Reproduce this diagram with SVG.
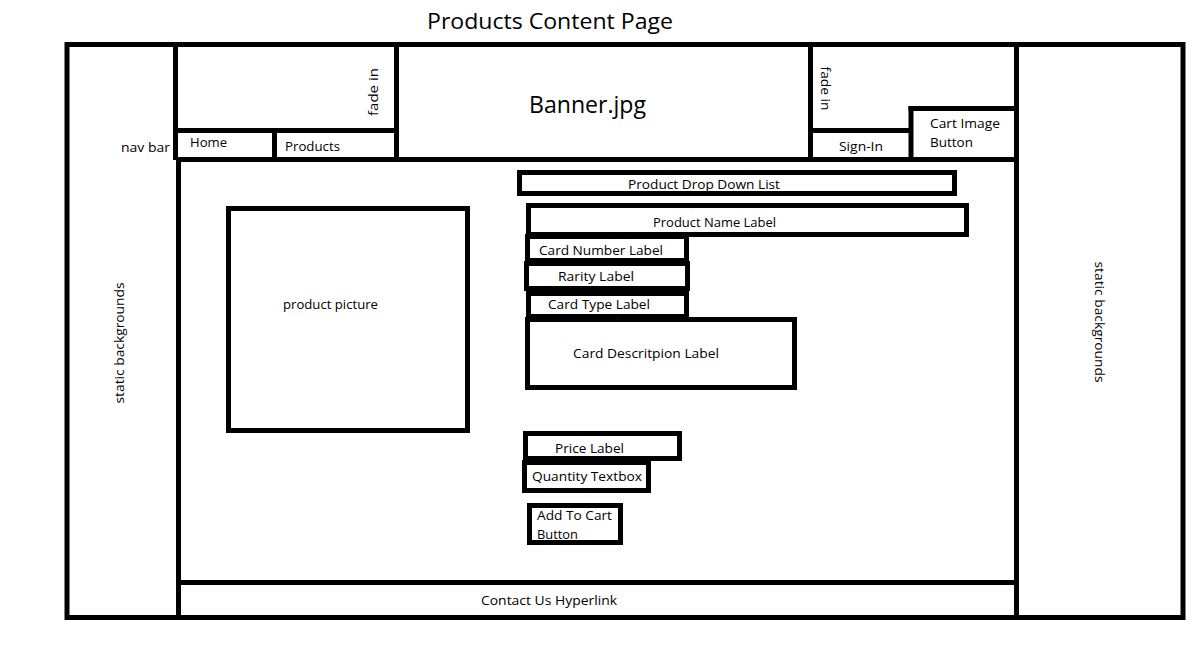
<svg xmlns="http://www.w3.org/2000/svg" width="1202" height="653" viewBox="0 0 1202 653">
  <style>
    .frame { fill: none; stroke: #000; stroke-width: 5; }
    .wall { stroke: #000; stroke-width: 5; fill: none; }
    .box { fill: none; stroke: #000; stroke-width: 5; }
    .lbl { font-family: "Open Sans", "Noto Sans", sans-serif; font-size: 12.5px; fill: #000; }
    .big { font-family: "Open Sans", "Noto Sans", sans-serif; font-size: 22px; fill: #000; }
  </style>
  <rect width="1202" height="653" fill="#fff"/>

  <text id="title" class="big" x="427" y="29" textLength="246" lengthAdjust="spacingAndGlyphs">Products Content Page</text>

  <!-- page frame and layout walls -->
  <g id="layout">
    <rect class="frame" x="67" y="44.5" width="1116" height="573"/>
    <line class="wall" x1="175.5" y1="44" x2="175.5" y2="160"/>
    <line class="wall" x1="178.5" y1="157" x2="178.5" y2="620"/>
    <line class="wall" x1="1016.5" y1="44" x2="1016.5" y2="620"/>
    <line class="wall" x1="176" y1="159.5" x2="1019" y2="159.5"/>
    <line class="wall" x1="176" y1="582.5" x2="1016" y2="582.5"/>
  </g>

  <g id="static-left">
    <text class="lbl" transform="translate(124 343) rotate(-90)" text-anchor="middle" textLength="121" lengthAdjust="spacingAndGlyphs">static backgrounds</text>
  </g>
  <g id="static-right">
    <text class="lbl" transform="translate(1095 322) rotate(90)" text-anchor="middle" textLength="121" lengthAdjust="spacingAndGlyphs">static backgrounds</text>
  </g>

  <g id="nav-label">
    <text class="lbl" x="121" y="152" textLength="49" lengthAdjust="spacingAndGlyphs">nav bar</text>
  </g>

  <!-- header: fade-in panels, nav buttons, banner -->
  <g id="fade-left">
    <line class="wall" x1="175" y1="130.5" x2="398" y2="130.5"/>
    <text class="lbl" transform="translate(378 92) rotate(-90)" text-anchor="middle" textLength="48" lengthAdjust="spacingAndGlyphs">fade in</text>
  </g>
  <g id="nav-home">
    <line class="wall" x1="274.5" y1="130" x2="274.5" y2="160"/>
    <text class="lbl" x="190" y="147" textLength="37" lengthAdjust="spacingAndGlyphs">Home</text>
  </g>
  <g id="nav-products">
    <text class="lbl" x="285" y="151" textLength="55" lengthAdjust="spacingAndGlyphs">Products</text>
  </g>
  <g id="banner">
    <line class="wall" x1="396.5" y1="44" x2="396.5" y2="160"/>
    <line class="wall" x1="810.5" y1="44" x2="810.5" y2="160"/>
    <text x="529" y="113" font-family="Open Sans, Noto Sans, sans-serif" font-size="23" textLength="117" lengthAdjust="spacingAndGlyphs">Banner.jpg</text>
  </g>
  <g id="fade-right">
    <line class="wall" x1="810" y1="130.5" x2="913" y2="130.5"/>
    <text class="lbl" transform="translate(821 88.5) rotate(90)" text-anchor="middle" textLength="44" lengthAdjust="spacingAndGlyphs">fade in</text>
  </g>
  <g id="sign-in">
    <text class="lbl" x="839" y="151" textLength="44" lengthAdjust="spacingAndGlyphs">Sign-In</text>
  </g>
  <g id="cart-image-button">
    <line class="wall" x1="911" y1="106" x2="911" y2="160"/>
    <line class="wall" x1="908.5" y1="108.5" x2="1017" y2="108.5"/>
    <text class="lbl" x="930" y="128" textLength="70" lengthAdjust="spacingAndGlyphs">Cart Image</text>
    <text class="lbl" x="930" y="147" textLength="43" lengthAdjust="spacingAndGlyphs">Button</text>
  </g>

  <!-- product content -->
  <g id="product-picture">
    <rect class="box" x="228.5" y="208.5" width="239" height="222"/>
    <text class="lbl" x="283" y="309" textLength="95" lengthAdjust="spacingAndGlyphs">product picture</text>
  </g>
  <g id="product-drop-down">
    <rect class="box" x="519.5" y="172.5" width="435" height="21"/>
    <text class="lbl" x="628" y="189" textLength="152" lengthAdjust="spacingAndGlyphs">Product Drop Down List</text>
  </g>
  <g id="product-name">
    <rect class="box" x="528.5" y="205.5" width="438" height="29"/>
    <text class="lbl" x="653" y="227" textLength="123" lengthAdjust="spacingAndGlyphs">Product Name Label</text>
  </g>
  <g id="card-number">
    <rect class="box" x="527.5" y="236.5" width="159" height="24"/>
    <text class="lbl" x="539" y="255" textLength="124" lengthAdjust="spacingAndGlyphs">Card Number Label</text>
  </g>
  <g id="rarity">
    <rect class="box" x="526.5" y="263.5" width="161" height="25"/>
    <text class="lbl" x="558" y="281" textLength="76" lengthAdjust="spacingAndGlyphs">Rarity Label</text>
  </g>
  <g id="card-type">
    <rect class="box" x="528.5" y="293.5" width="158" height="23"/>
    <text class="lbl" x="548" y="309" textLength="102" lengthAdjust="spacingAndGlyphs">Card Type Label</text>
  </g>
  <g id="card-description">
    <rect class="box" x="527.5" y="319.5" width="267" height="68"/>
    <text class="lbl" x="573" y="357.5" textLength="146" lengthAdjust="spacingAndGlyphs">Card Descritpion Label</text>
  </g>
  <g id="price">
    <rect class="box" x="525.5" y="433.5" width="154" height="25"/>
    <text class="lbl" x="555" y="452.5" textLength="69" lengthAdjust="spacingAndGlyphs">Price Label</text>
  </g>
  <g id="quantity">
    <rect class="box" x="524.5" y="462.5" width="124" height="28"/>
    <text class="lbl" x="532" y="481" textLength="110" lengthAdjust="spacingAndGlyphs">Quantity Textbox</text>
  </g>
  <g id="add-to-cart">
    <rect class="box" x="529.5" y="505.5" width="91" height="37"/>
    <text class="lbl" x="537" y="520" textLength="75" lengthAdjust="spacingAndGlyphs">Add To Cart</text>
    <text class="lbl" x="537" y="539" textLength="41" lengthAdjust="spacingAndGlyphs">Button</text>
  </g>

  <g id="footer">
    <text class="lbl" x="481" y="605" textLength="136" lengthAdjust="spacingAndGlyphs">Contact Us Hyperlink</text>
  </g>

  <g id="connectors"/>
</svg>
